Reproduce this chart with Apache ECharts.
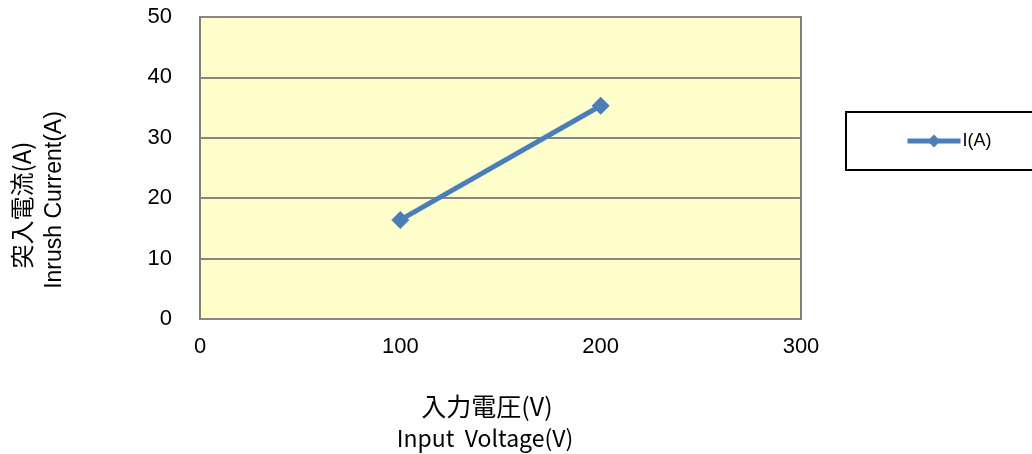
<!DOCTYPE html>
<html>
<head>
<meta charset="utf-8">
<script src="https://cdn.jsdelivr.net/npm/echarts@6/dist/echarts.min.js"></script>
<style>html,body{margin:0;padding:0;background:#fff}#c{width:1032px;height:454px}</style>
</head>
<body>
<div id="c"></div>
<script>
const voltages = [100, 200];
const currents = [16.4, 35.3];
const seriesName = 'I(A)';
const yTitle = ['突入電流(A)', 'Inrush Current(A)'];
const xTitle = ['入力電圧(V)', 'Input\u00a0\u00a0Voltage(V)'];

const chart = echarts.init(document.getElementById('c'));
chart.setOption({
  animation: false,
  grid: {left: 200, right: 231, top: 17, bottom: 135, show: true, backgroundColor: '#FFFFCC', borderColor: '#808080', borderWidth: 2},
  xAxis: {
    type: 'value', min: 0, max: 300, interval: 100,
    axisLine: {show: false}, axisTick: {show: false}, splitLine: {show: false},
    axisLabel: {color: '#000', fontSize: 22, fontFamily: 'Liberation Sans', margin: 17}
  },
  yAxis: {
    type: 'value', min: 0, max: 50, interval: 10,
    axisLine: {show: false}, axisTick: {show: false},
    splitLine: {lineStyle: {color: '#868686', width: 2}},
    axisLabel: {color: '#000', fontSize: 22, fontFamily: 'Liberation Sans', margin: 28, padding: [3, 0, 0, 0]}
  },
  legend: {
    left: 846, top: 112, orient: 'vertical',
    padding: [20, 80, 20, 59],
    borderColor: '#000', borderWidth: 2,
    itemWidth: 53, itemHeight: 16, itemGap: 0,
    lineStyle: {width: 5},
    textStyle: {fontSize: 18, color: '#000', fontFamily: 'Liberation Sans', padding: [0, 0, 0, -3]},
    data: [seriesName]
  },
  series: [{
    name: seriesName, type: 'line',
    data: voltages.map((v, i) => [v, currents[i]]),
    symbol: 'diamond', symbolSize: 18,
    lineStyle: {color: '#4A7EBB', width: 5},
    itemStyle: {color: '#4A7EBB'}
  }],
  graphic: [
    {type: 'text', x: 22, y: 205, rotation: Math.PI / 2, style: {text: yTitle[0], fontSize: 24, fontFamily: 'Noto Sans CJK JP', fill: '#000', align: 'center', verticalAlign: 'middle'}},
    {type: 'text', x: 55, y: 200, rotation: Math.PI / 2, style: {text: yTitle[1], fontSize: 23, fontFamily: 'Liberation Sans', fill: '#000', align: 'center', verticalAlign: 'middle'}},
    {type: 'text', x: 487, y: 406, style: {text: xTitle[0], fontSize: 25, fontFamily: 'Noto Sans CJK JP', fill: '#000', align: 'center', verticalAlign: 'middle'}},
    {type: 'text', x: 485, y: 438, style: {text: xTitle[1], fontSize: 23, fontFamily: 'Noto Sans CJK JP', fill: '#000', align: 'center', verticalAlign: 'middle'}}
  ]
});
</script>
</body>
</html>
